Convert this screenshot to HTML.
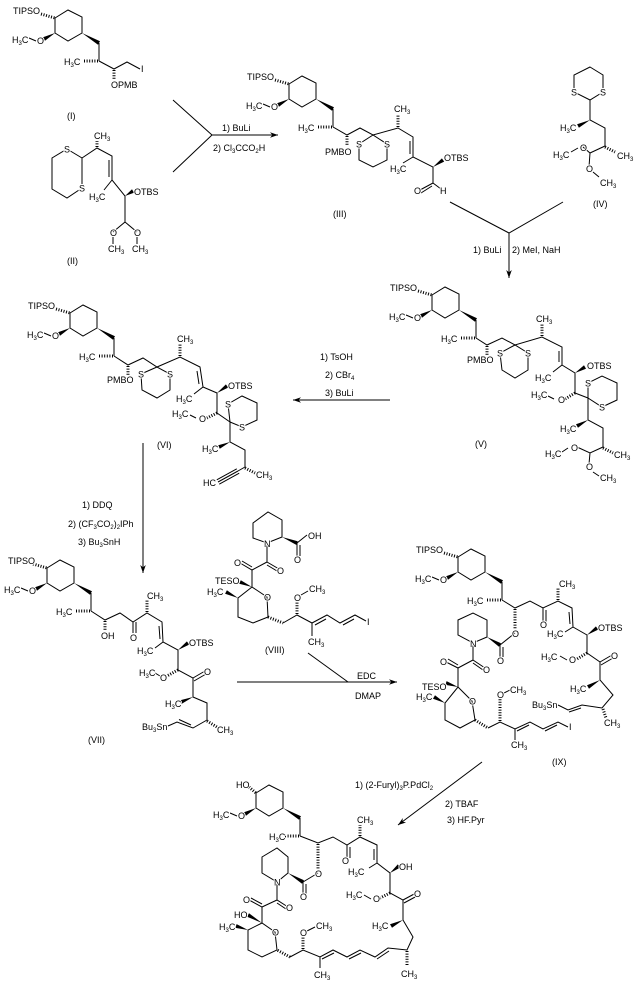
<!DOCTYPE html>
<html><head><meta charset="utf-8">
<style>
html,body{margin:0;padding:0;background:#fff;}
body{width:636px;height:986px;overflow:hidden;}
svg{display:block;}
.b{stroke:#000;stroke-width:1;fill:none;}
.h{stroke:#000;stroke-width:3;stroke-dasharray:1 1.6;fill:none;}
.w{fill:#000;stroke:none;}
text{font-family:"Liberation Sans",sans-serif;font-size:9px;fill:#000;stroke:#fff;stroke-width:2px;paint-order:stroke;stroke-linejoin:round;}
.s{font-size:6px;}
</style></head>
<body>
<svg width="636" height="986" viewBox="0 0 636 986" xmlns="http://www.w3.org/2000/svg">
<defs>
<marker id="ar" viewBox="0 0 10 10" refX="10" refY="5" markerWidth="8" markerHeight="8" orient="auto" markerUnits="userSpaceOnUse"><path d="M0,1.5 L10,5 L0,8.5 L3,5z" fill="#000"/></marker>
</defs>
<rect width="636" height="986" fill="#fff"/>

<!-- ================= LINES ================= -->
<g class="b">
<!-- cyclohexyl fragments -->
<g transform="translate(0,0)">
<path d="M55,18 L68,10 L82,17 L82,33 L68,41 L55,33Z M29,38 L36,41 M99,43 L99,61"/>
<path class="h" d="M41,14 L55,18 M98,61 L84,61"/>
<path class="w" d="M55,33 L43,37.2 L45,40.8Z M82,33 L98,44.7 L100,41.3Z"/>
</g>
<g transform="translate(234,66)">
<path d="M55,18 L68,10 L82,17 L82,33 L68,41 L55,33Z M29,38 L36,41 M99,43 L99,61"/>
<path class="h" d="M41,14 L55,18 M98,61 L84,61"/>
<path class="w" d="M55,33 L43,37.2 L45,40.8Z M82,33 L98,44.7 L100,41.3Z"/>
</g>
<g transform="translate(377,277)">
<path d="M55,18 L68,10 L82,17 L82,33 L68,41 L55,33Z M29,38 L36,41 M99,43 L99,61"/>
<path class="h" d="M41,14 L55,18 M98,61 L84,61"/>
<path class="w" d="M55,33 L43,37.2 L45,40.8Z M82,33 L98,44.7 L100,41.3Z"/>
</g>
<g transform="translate(15,295)">
<path d="M55,18 L68,10 L82,17 L82,33 L68,41 L55,33Z M29,38 L36,41 M99,43 L99,61"/>
<path class="h" d="M41,14 L55,18 M98,61 L84,61"/>
<path class="w" d="M55,33 L43,37.2 L45,40.8Z M82,33 L98,44.7 L100,41.3Z"/>
</g>
<g transform="translate(-8,550)">
<path d="M55,18 L68,10 L82,17 L82,33 L68,41 L55,33Z M29,38 L36,41 M99,43 L99,61"/>
<path class="h" d="M41,14 L55,18 M98,61 L84,61"/>
<path class="w" d="M55,33 L43,37.2 L45,40.8Z M82,33 L98,44.7 L100,41.3Z"/>
</g>
<g transform="translate(403,539)">
<path d="M55,18 L68,10 L82,17 L82,33 L68,41 L55,33Z M29,38 L36,41 M99,43 L99,61"/>
<path class="h" d="M41,14 L55,18 M98,61 L84,61"/>
<path class="w" d="M55,33 L43,37.2 L45,40.8Z M82,33 L98,44.7 L100,41.3Z"/>
</g>
<g transform="translate(201,775)">
<path d="M55,18 L68,10 L82,17 L82,33 L68,41 L55,33Z M29,38 L36,41 M99,43 L99,61"/>
<path class="h" d="M48,12 L55,18 M98,61 L84,61"/>
<path class="w" d="M55,33 L43,37.2 L45,40.8Z M82,33 L98,44.7 L100,41.3Z"/>
</g>

<!-- (I) -->
<path d="M99,61 L114,69 L127,62 L140,69"/>
<path class="h" d="M114,70 L114,80"/>

<!-- (II) -->
<path d="M67,149 L82,158 L82,188 L67,198 L52,189 L52,158Z"/>
<path d="M82,158 L97,148 L112,156 L112,180 L125,196 L125,222 L113,232 M125,222 L137,232 M112,180 L104,190 M109,160 L109,177 M113,237 L113,244 M137,237 L137,244"/>
<path class="h" d="M97,147 L97,141"/>
<path class="w" d="M125,196 L134,192.7 L132,189.3Z"/>

<!-- arrow 1 -->
<path d="M173,100 L212,135 L173,172"/>
<path d="M212,135 L278,135" marker-end="url(#ar)"/>

<!-- (III) -->
<path d="M333,127 L347,135 L360,128 L373,135 L398,128 L413,137 L413,157 L433,167 L433,183 L441,189 M413,157 L403,163 M433,183 L420,190"/>
<path d="M373,135 L359,144 L359,160 L373,167 L387,160 L387,144Z"/>
<path d="M410,141 L410,154 M432,186 L421,193"/>
<path class="h" d="M347,136 L347,146 M398,127 L398,114"/>
<path class="w" d="M433,167 L444.2,161.6 L441.9,158.4Z"/>

<!-- (IV) -->
<path d="M590,67 L603,75 L603,92 L590,100 L574,92 L574,75Z"/>
<path d="M590,100 L590,120 L605,128 L605,146 L590,153 L583,147 M590,153 L589,167 M578,148 L571,152 M593,172 L599,177"/>
<path class="h" d="M605,147 L615,152"/>
<path class="w" d="M590,120 L577.1,124.2 L578.9,127.8Z"/>

<!-- arrow 2 -->
<path d="M450,202 L509,233 L563,202"/>
<path d="M509,233 L509,278" marker-end="url(#ar)"/>

<!-- (V) -->
<path d="M476,338 L487,345 L502,338 L515,345 L542,337 L562,347 L562,365 L575,373 L575,393 L588,398 L588,420 L603,428 L603,447 L590,453 L577,447 M590,453 L589,464 M562,365 L553,372"/>
<path d="M515,345 L500,353 L502,370 L515,378 L528,370 L528,353Z"/>
<path d="M588,398 L588,383 L602,376 L617,383 L617,400 L602,407Z"/>
<path d="M559,351 L559,362 M554,399 L548,396 M568,448 L562,452 M593,472 L599,476"/>
<path class="h" d="M487,346 L487,356 M542,336 L542,324 M575,393 L565,399 M603,448 L613,453"/>
<path class="w" d="M575,373 L586,368.7 L584,365.3Z M588,420 L576,424.2 L578,427.8Z"/>

<!-- arrow 3 -->
<path d="M390,400 L293,400" marker-end="url(#ar)"/>

<!-- (VI) -->
<path d="M114,356 L128,365 L143,358 L157,367 L180,357 L200,367 L203,387 L217,393 L217,413 L230,422 L230,442 L245,450 L245,467 L238,471 M203,387 L194,394"/>
<path d="M157,367 L141,374 L142,390 L157,398 L170,390 L170,374Z"/>
<path d="M230,422 L228,404 L242,396 L257,403 L257,420 L242,427Z"/>
<path d="M197,371 L199,384 M196,418 L190,415"/>
<path d="M238,471 L218,482 M239.2,473.2 L219.2,484.2 M236.8,468.8 L216.8,479.8"/>
<path class="h" d="M128,366 L128,376 M180,356 L180,344 M217,413 L207,418 M245,468 L255,473"/>
<path class="w" d="M217,393 L228.2,387.6 L225.9,384.4Z M230,442 L218.2,445.2 L219.8,448.8Z"/>

<!-- arrow 4 -->
<path d="M143,443 L143,573" marker-end="url(#ar)"/>

<!-- (VII) -->
<path d="M91,611 L105,620 L120,613 L133,622 L147,613 L162,622 L163,642 L178,650 L178,670 L193,678 L193,697 L207,703 L207,720 L193,728 L177,722 L168,726 M133,622 L133,633 M163,642 L155,648 M193,678 L205,671"/>
<path d="M136,622 L136,633 M159,626 L160,639 M194,681 L206,674 M191,725 L179,719.5 M155,673 L160,676"/>
<path class="h" d="M105,621 L105,631 M147,612 L147,600 M178,670 L167,676 M207,721 L217,727"/>
<path class="w" d="M178,650 L189.2,644.6 L186.9,641.4Z M193,697 L180.2,700.2 L181.8,703.8Z"/>

<!-- (VIII) -->
<path d="M253,523 L268,512 L282,520 L282,537 L267,543 L253,538Z"/>
<path d="M297,543 L307,535 M297,543 L297,556 M300,545 L300,556"/>
<path d="M267,543 L267,562 L279,569 M267,565 L277,571 M267,562 L252,570 L240,563 M252,567 L242,561"/>
<path d="M252,570 L252,587 L267,597 L268,617 L253,623 L238,617 L238,598 L252,587"/>
<path d="M283,623 L297,615 L312,623 L327,615 L340,623 L355,615 L366,621 M312,623 L312,636 M315,625 L326,619 M343,625 L354,619 M301,595 L308,591"/>
<path class="h" d="M268,617 L283,623 M297,614 L297,602"/>
<path class="w" d="M282,537 L296.3,544.9 L297.7,541.2Z M252,587 L240.8,580.2 L239.2,583.8Z M238,598 L226.9,590.2 L225.1,593.8Z"/>

<!-- arrow 5 -->
<path d="M237,682 L397,682" marker-end="url(#ar)"/>
<path d="M308,653 L348,682"/>

<!-- (IX) -->
<path d="M502,600 L515,608 L530,601 L543,608 L558,601 L572,608 L573,627 L587,635 L587,653 L600,662 L600,680 L613,695 L602,708 L582,705 L568,710 L558,705 M543,608 L543,622 M573,627 L565,632 M600,662 L612,655"/>
<path d="M546,610 L546,622 M569,612 L570,624 M601,665 L613,658 M581,708 L569,712 M567,660 L560,656"/>
<path d="M458,620 L473,613 L487,620 L487,637 L473,643 L458,635Z"/>
<path d="M500,645 L515,633 M500,645 L500,657 M503,647 L503,657"/>
<path d="M473,643 L473,660 L485,668 M473,663 L483,670 M473,660 L458,668 L446,662 M458,665 L448,659"/>
<path d="M458,668 L458,687 L472,701 L475,720 L460,728 L445,720 L445,703 L458,687"/>
<path d="M488,728 L500,722 L515,729 L530,722 L543,729 L558,722 L568,727 M515,729 L515,740 M517,731 L529,725 M545,731 L557,725 M504,693 L510,690"/>
<path class="h" d="M515,609 L515,629 M558,600 L558,588 M587,653 L577,659 M603,709 L606,718 M475,720 L488,728 M500,721 L500,698"/>
<path class="w" d="M587,635 L598.2,629.6 L595.9,626.4Z M600,680 L587,685.3 L589,688.7Z M487,637 L499,646.7 L501,643.3Z M458,687 L446.6,681.1 L445.4,684.9Z M445,703 L435,695.2 L433,698.8Z"/>

<!-- arrow 6 -->
<path d="M482,762 L398,825" marker-end="url(#ar)"/>

<!-- Final -->
<path d="M300,836 L318,843 L333,837 L347,845 L360,837 L377,845 L377,863 L390,873 L390,893 L403,900 L403,920 L413,937 L407,950 L388,948 L375,957 L360,950 L347,957 L333,950 L320,957 L303,950 L290,957 M347,845 L347,858 M377,863 L369,868 M403,900 L416,893 M320,957 L320,968"/>
<path d="M350,847 L350,858 M374,849 L374,860 M404,903 L417,896 M389,951 L377,959 M361,953 L349,959 M334,953 L322,959 M371,899 L364,895 M307,931 L315,927"/>
<path d="M277,950 L275,932 L262,923 L248,930 L248,950 L262,957Z"/>
<path d="M262,923 L262,907 L249,900 M262,904 L251,898 M262,907 L277,900 L288,907 M277,903 L286,909 M277,900 L277,882"/>
<path d="M262,857 L277,848 L288,857 L288,873 L277,882 L262,873Z"/>
<path d="M303,882 L318,873 M303,882 L303,895 M306,884 L306,895"/>
<path class="h" d="M318,844 L318,869 M360,836 L360,825 M390,893 L380,898 M407,951 L407,965 M290,957 L277,950 M303,949 L303,937"/>
<path class="w" d="M390,873 L400.2,867.6 L397.8,864.4Z M403,920 L390,924.3 L392,927.7Z M288,873 L302,883.7 L304,880.3Z M262,923 L249,913.3 L247,916.7Z M248,930 L236.6,924.1 L235.4,927.9Z"/>
</g>

<!-- ================= TEXT ================= -->
<g>
<!-- fragment texts -->
<g transform="translate(0,0)">
<text x="13" y="14">TIPSO</text><text x="37" y="44">O</text>
<text x="12" y="43">H<tspan class="s" dy="2">3</tspan><tspan dy="-2">C</tspan></text>
<text x="64" y="65">H<tspan class="s" dy="2">3</tspan><tspan dy="-2">C</tspan></text>
</g>
<g transform="translate(234,66)">
<text x="13" y="14">TIPSO</text><text x="37" y="44">O</text>
<text x="12" y="43">H<tspan class="s" dy="2">3</tspan><tspan dy="-2">C</tspan></text>
<text x="64" y="65">H<tspan class="s" dy="2">3</tspan><tspan dy="-2">C</tspan></text>
</g>
<g transform="translate(377,277)">
<text x="13" y="14">TIPSO</text><text x="37" y="44">O</text>
<text x="12" y="43">H<tspan class="s" dy="2">3</tspan><tspan dy="-2">C</tspan></text>
<text x="64" y="65">H<tspan class="s" dy="2">3</tspan><tspan dy="-2">C</tspan></text>
</g>
<g transform="translate(15,295)">
<text x="13" y="14">TIPSO</text><text x="37" y="44">O</text>
<text x="12" y="43">H<tspan class="s" dy="2">3</tspan><tspan dy="-2">C</tspan></text>
<text x="64" y="65">H<tspan class="s" dy="2">3</tspan><tspan dy="-2">C</tspan></text>
</g>
<g transform="translate(-8,550)">
<text x="16" y="14">TIPSO</text><text x="37" y="44">O</text>
<text x="12" y="43">H<tspan class="s" dy="2">3</tspan><tspan dy="-2">C</tspan></text>
<text x="64" y="65">H<tspan class="s" dy="2">3</tspan><tspan dy="-2">C</tspan></text>
</g>
<g transform="translate(403,539)">
<text x="13" y="14">TIPSO</text><text x="37" y="44">O</text>
<text x="12" y="43">H<tspan class="s" dy="2">3</tspan><tspan dy="-2">C</tspan></text>
<text x="64" y="65">H<tspan class="s" dy="2">3</tspan><tspan dy="-2">C</tspan></text>
</g>
<g transform="translate(201,775)">
<text x="35" y="13">HO</text><text x="37" y="44">O</text>
<text x="12" y="43">H<tspan class="s" dy="2">3</tspan><tspan dy="-2">C</tspan></text>
<text x="68" y="65">H<tspan class="s" dy="2">3</tspan><tspan dy="-2">C</tspan></text>
</g>

<!-- (I) -->
<text x="111" y="88">OPMB</text>
<text x="141" y="72">I</text>
<text x="67" y="119">(I)</text>

<!-- (II) -->
<text x="64" y="152.5">S</text>
<text x="79" y="191.5">S</text>
<text x="94" y="139">CH<tspan class="s" dy="2">3</tspan></text>
<text x="89" y="200">H<tspan class="s" dy="2">3</tspan><tspan dy="-2">C</tspan></text>
<text x="134" y="195">OTBS</text>
<text x="110" y="236">O</text>
<text x="134" y="236">O</text>
<text x="108" y="252">CH<tspan class="s" dy="2">3</tspan></text>
<text x="132" y="252">CH<tspan class="s" dy="2">3</tspan></text>
<text x="67" y="264">(II)</text>

<!-- arrow 1 text -->
<text x="222" y="131">1) BuLi</text>
<text x="213" y="151">2) Cl<tspan class="s" dy="2">3</tspan><tspan dy="-2">CCO</tspan><tspan class="s" dy="2">2</tspan><tspan dy="-2">H</tspan></text>

<!-- (III) -->
<text x="325" y="155">PMBO</text>
<text x="356" y="147.5">S</text>
<text x="384" y="147.5">S</text>
<text x="394" y="112">CH<tspan class="s" dy="2">3</tspan></text>
<text x="390" y="172">H<tspan class="s" dy="2">3</tspan><tspan dy="-2">C</tspan></text>
<text x="444" y="161">OTBS</text>
<text x="414" y="194">O</text>
<text x="440" y="194">H</text>
<text x="333" y="217">(III)</text>

<!-- (IV) -->
<text x="600" y="95.5">S</text>
<text x="571" y="95.5">S</text>
<text x="560" y="131">H<tspan class="s" dy="2">3</tspan><tspan dy="-2">C</tspan></text>
<text x="617" y="159">CH<tspan class="s" dy="2">3</tspan></text>
<text x="580" y="151">O</text>
<text x="553" y="158">H<tspan class="s" dy="2">3</tspan><tspan dy="-2">C</tspan></text>
<text x="586" y="172">O</text>
<text x="600" y="186">CH<tspan class="s" dy="2">3</tspan></text>
<text x="593" y="207">(IV)</text>

<!-- arrow 2 text -->
<text x="473" y="253">1) BuLi</text>
<text x="512" y="253">2) MeI, NaH</text>

<!-- (V) -->
<text x="467" y="363">PMBO</text>
<text x="497" y="356.5">S</text>
<text x="525" y="356.5">S</text>
<text x="536" y="322">CH<tspan class="s" dy="2">3</tspan></text>
<text x="535" y="381">H<tspan class="s" dy="2">3</tspan><tspan dy="-2">C</tspan></text>
<text x="587" y="369">OTBS</text>
<text x="558" y="403">O</text>
<text x="531" y="398">H<tspan class="s" dy="2">3</tspan><tspan dy="-2">C</tspan></text>
<text x="585" y="386.5">S</text>
<text x="599" y="410.5">S</text>
<text x="560" y="432">H<tspan class="s" dy="2">3</tspan><tspan dy="-2">C</tspan></text>
<text x="614" y="458">CH<tspan class="s" dy="2">3</tspan></text>
<text x="571" y="451">O</text>
<text x="545" y="457">H<tspan class="s" dy="2">3</tspan><tspan dy="-2">C</tspan></text>
<text x="586" y="470">O</text>
<text x="600" y="481">CH<tspan class="s" dy="2">3</tspan></text>
<text x="475" y="447">(V)</text>

<!-- arrow 3 text -->
<text x="320" y="360">1) TsOH</text>
<text x="325" y="378">2) CBr<tspan class="s" dy="2">4</tspan></text>
<text x="325" y="396">3) BuLi</text>

<!-- (VI) -->
<text x="107" y="383">PMBO</text>
<text x="138" y="377.5">S</text>
<text x="167" y="377.5">S</text>
<text x="177" y="342">CH<tspan class="s" dy="2">3</tspan></text>
<text x="176" y="402">H<tspan class="s" dy="2">3</tspan><tspan dy="-2">C</tspan></text>
<text x="228" y="389">OTBS</text>
<text x="199" y="422">O</text>
<text x="172" y="417">H<tspan class="s" dy="2">3</tspan><tspan dy="-2">C</tspan></text>
<text x="225" y="407.5">S</text>
<text x="239" y="430.5">S</text>
<text x="202" y="452">H<tspan class="s" dy="2">3</tspan><tspan dy="-2">C</tspan></text>
<text x="256" y="478">CH<tspan class="s" dy="2">3</tspan></text>
<text x="203" y="486">HC</text>
<text x="157" y="448">(VI)</text>

<!-- arrow 4 text -->
<text x="82" y="508">1) DDQ</text>
<text x="68" y="527">2) (CF<tspan class="s" dy="2">3</tspan><tspan dy="-2">CO</tspan><tspan class="s" dy="2">2</tspan><tspan dy="-2">)</tspan><tspan class="s" dy="2">2</tspan><tspan dy="-2">IPh</tspan></text>
<text x="78" y="545">3) Bu<tspan class="s" dy="2">3</tspan><tspan dy="-2">SnH</tspan></text>

<!-- (VII) -->
<text x="101" y="639">OH</text>
<text x="130" y="641">O</text>
<text x="147" y="599">CH<tspan class="s" dy="2">3</tspan></text>
<text x="137" y="654">H<tspan class="s" dy="2">3</tspan><tspan dy="-2">C</tspan></text>
<text x="189" y="646">OTBS</text>
<text x="160" y="681">O</text>
<text x="139" y="676">H<tspan class="s" dy="2">3</tspan><tspan dy="-2">C</tspan></text>
<text x="204" y="675">O</text>
<text x="165" y="707">H<tspan class="s" dy="2">3</tspan><tspan dy="-2">C</tspan></text>
<text x="217" y="733">CH<tspan class="s" dy="2">3</tspan></text>
<text x="142" y="730">Bu<tspan class="s" dy="2">3</tspan><tspan dy="-2">Sn</tspan></text>
<text x="88" y="743">(VII)</text>

<!-- (VIII) -->
<text x="264" y="547">N</text>
<text x="308" y="539">OH</text>
<text x="294" y="563">O</text>
<text x="277" y="574">O</text>
<text x="234" y="566">O</text>
<text x="215" y="584">TESO</text>
<text x="264" y="600.5">O</text>
<text x="207" y="595">H<tspan class="s" dy="2">3</tspan><tspan dy="-2">C</tspan></text>
<text x="294" y="601">O</text>
<text x="309" y="592">CH<tspan class="s" dy="2">3</tspan></text>
<text x="308" y="645">CH<tspan class="s" dy="2">3</tspan></text>
<text x="367" y="625">I</text>
<text x="265" y="653">(VIII)</text>

<!-- arrow 5 text -->
<text x="357" y="679">EDC</text>
<text x="355" y="699">DMAP</text>

<!-- (IX) -->
<text x="512" y="637">O</text>
<text x="540" y="628">O</text>
<text x="559" y="587">CH<tspan class="s" dy="2">3</tspan></text>
<text x="547" y="637">H<tspan class="s" dy="2">3</tspan><tspan dy="-2">C</tspan></text>
<text x="598" y="631">OTBS</text>
<text x="569" y="663">O</text>
<text x="541" y="660">H<tspan class="s" dy="2">3</tspan><tspan dy="-2">C</tspan></text>
<text x="611" y="659">O</text>
<text x="570" y="692">H<tspan class="s" dy="2">3</tspan><tspan dy="-2">C</tspan></text>
<text x="604" y="726">CH<tspan class="s" dy="2">3</tspan></text>
<text x="532" y="708">Bu<tspan class="s" dy="2">3</tspan><tspan dy="-2">Sn</tspan></text>
<text x="470" y="647">N</text>
<text x="497" y="664">O</text>
<text x="483" y="673">O</text>
<text x="440" y="665">O</text>
<text x="422" y="690">TESO</text>
<text x="469" y="704.5">O</text>
<text x="416" y="700">H<tspan class="s" dy="2">3</tspan><tspan dy="-2">C</tspan></text>
<text x="497" y="698">O</text>
<text x="510" y="693">CH<tspan class="s" dy="2">3</tspan></text>
<text x="511" y="748">CH<tspan class="s" dy="2">3</tspan></text>
<text x="569" y="730">I</text>
<text x="552" y="765">(IX)</text>

<!-- arrow 6 text -->
<text x="355" y="788">1) (2-Furyl)<tspan class="s" dy="2">3</tspan><tspan dy="-2">P.PdCl</tspan><tspan class="s" dy="2">2</tspan></text>
<text x="445" y="807">2) TBAF</text>
<text x="447" y="823">3) HF.Pyr</text>

<!-- Final -->
<text x="315" y="877">O</text>
<text x="342" y="864">O</text>
<text x="357" y="823">CH<tspan class="s" dy="2">3</tspan></text>
<text x="348" y="875">H<tspan class="s" dy="2">3</tspan><tspan dy="-2">C</tspan></text>
<text x="399" y="870">OH</text>
<text x="373" y="902">O</text>
<text x="346" y="898">H<tspan class="s" dy="2">3</tspan><tspan dy="-2">C</tspan></text>
<text x="414" y="897">O</text>
<text x="372" y="929">H<tspan class="s" dy="2">3</tspan><tspan dy="-2">C</tspan></text>
<text x="401" y="977">CH<tspan class="s" dy="2">3</tspan></text>
<text x="300" y="936">O</text>
<text x="316" y="929">CH<tspan class="s" dy="2">3</tspan></text>
<text x="314" y="978">CH<tspan class="s" dy="2">3</tspan></text>
<text x="272" y="935.5">O</text>
<text x="219" y="930">H<tspan class="s" dy="2">3</tspan><tspan dy="-2">C</tspan></text>
<text x="234" y="918">HO</text>
<text x="243" y="903">O</text>
<text x="286" y="911">O</text>
<text x="274" y="885.5">N</text>
<text x="300" y="900">O</text>
</g>
</svg>
</body></html>
